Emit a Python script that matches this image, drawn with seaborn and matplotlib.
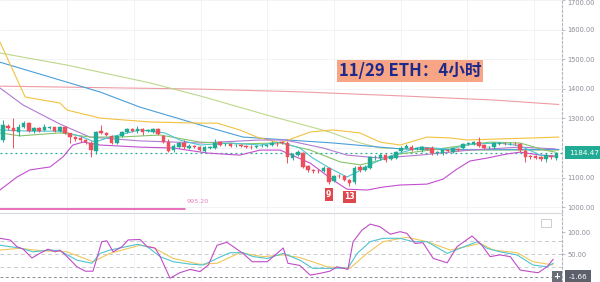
import numpy as np
import pandas as pd
import matplotlib
matplotlib.use("Agg")
import matplotlib.pyplot as plt
import matplotlib.transforms as mtransforms
from matplotlib.patches import Rectangle
import seaborn as sns

# ---------------- data: 4h ETH candles ----------------
opens = [1227, 1274, 1268, 1254, 1271, 1284, 1257, 1267, 1260, 1268, 1270, 1258, 1270, 1250, 1237, 1233,
         1226, 1217, 1190, 1257, 1250, 1240, 1217, 1240, 1254, 1264, 1257, 1263, 1258, 1253, 1264, 1242,
         1221, 1193, 1204, 1216, 1201, 1205, 1202, 1191, 1200, 1201, 1219, 1212, 1214, 1209, 1210, 1207,
         1205, 1203, 1206, 1208, 1209, 1215, 1220, 1216, 1167, 1176, 1182, 1140, 1126, 1122, 1123, 1131,
         1088, 1106, 1105, 1092, 1084, 1137, 1126, 1134, 1168, 1165, 1176, 1162, 1167, 1190, 1199, 1205,
         1198, 1193, 1200, 1201, 1183, 1182, 1192, 1187, 1196, 1199, 1214, 1212, 1219, 1210, 1202, 1202,
         1214, 1215, 1213, 1215, 1213, 1191, 1172, 1174, 1170, 1162, 1172, 1165]
highs = [1294, 1280, 1301, 1280, 1290, 1288, 1272, 1270, 1280, 1276, 1272, 1276, 1274, 1252, 1240, 1240,
         1230, 1222, 1258, 1278, 1254, 1244, 1244, 1258, 1268, 1268, 1274, 1268, 1264, 1268, 1266, 1245,
         1230, 1212, 1220, 1226, 1214, 1210, 1206, 1207, 1206, 1232, 1222, 1218, 1218, 1214, 1214, 1211,
         1209, 1210, 1212, 1214, 1222, 1220, 1223, 1222, 1184, 1192, 1186, 1142, 1130, 1128, 1140, 1134,
         1110, 1112, 1110, 1095, 1140, 1142, 1142, 1174, 1176, 1182, 1180, 1178, 1190, 1206, 1212, 1210,
         1204, 1208, 1204, 1206, 1190, 1196, 1196, 1202, 1200, 1216, 1220, 1222, 1238, 1214, 1208, 1220,
         1220, 1219, 1219, 1219, 1216, 1195, 1176, 1177, 1172, 1184, 1178, 1188]
lows = [1220, 1260, 1200, 1240, 1268, 1254, 1252, 1254, 1256, 1264, 1255, 1255, 1246, 1216, 1225, 1220,
        1214, 1170, 1180, 1246, 1240, 1212, 1212, 1237, 1250, 1254, 1252, 1245, 1254, 1250, 1244, 1218,
        1186, 1188, 1200, 1198, 1196, 1200, 1190, 1188, 1196, 1198, 1206, 1208, 1204, 1205, 1203, 1200,
        1198, 1200, 1202, 1204, 1206, 1208, 1213, 1150, 1160, 1174, 1133, 1120, 1116, 1115, 1118, 1080,
        1084, 1098, 1088, 1072, 1080, 1120, 1122, 1130, 1160, 1160, 1152, 1158, 1162, 1186, 1196, 1190,
        1194, 1188, 1192, 1178, 1178, 1178, 1186, 1184, 1190, 1196, 1210, 1210, 1204, 1198, 1198, 1198,
        1210, 1209, 1209, 1209, 1188, 1154, 1164, 1162, 1156, 1152, 1164, 1160]
closes = [1277, 1268, 1257, 1271, 1284, 1257, 1267, 1258, 1271, 1271, 1258, 1272, 1250, 1237, 1232, 1226,
          1220, 1193, 1254, 1250, 1244, 1217, 1240, 1254, 1264, 1257, 1264, 1255, 1260, 1264, 1246, 1221,
          1190, 1208, 1216, 1202, 1208, 1204, 1193, 1203, 1202, 1218, 1210, 1214, 1208, 1211, 1208, 1205,
          1203, 1206, 1208, 1210, 1216, 1213, 1216, 1171, 1179, 1188, 1137, 1126, 1122, 1121, 1131, 1086,
          1106, 1104, 1092, 1081, 1131, 1126, 1137, 1169, 1170, 1176, 1159, 1174, 1188, 1201, 1208, 1193,
          1199, 1204, 1197, 1182, 1185, 1193, 1190, 1199, 1194, 1212, 1216, 1219, 1207, 1201, 1203, 1216,
          1215, 1213, 1215, 1213, 1193, 1171, 1170, 1167, 1162, 1176, 1170, 1184.47]

last_price = 1184.47
low_mark = 995.20
td_labels = ["9", "13"]
td_index = [63, 67]

# ---------------- overlay lines (candle index, price) ----------------
long_ma_x = [-0.6, 38, 57, 77, 95, 107.5]
long_ma_y = [1409, 1399, 1390, 1376, 1362, 1347]

slow_ma_x = [-0.6, 12.4, 28.4, 38.1, 51.1, 63.2, 68.5, 72.9, 86.5, 107.5]
slow_ma_y = [1521, 1480, 1420, 1376, 1311, 1254, 1220, 1200, 1193, 1192]

blue_ma_x = [-0.6, 18.8, 26.5, 38.1, 46.4, 63.8, 76.8, 90, 107.5]
blue_ma_y = [1490, 1389, 1338, 1278, 1237, 1217, 1197, 1194, 1195]

upper_x = [-0.6, 4.3, 11, 12.4, 18.8, 28.4, 38.1, 41.4, 45.8, 49.1, 53.6, 59.4, 63.8, 69, 72.9,
           76.8, 82, 86.5, 89.7, 94.8, 102.5, 107.5]
upper_y = [1558, 1372, 1352, 1328, 1301, 1288, 1284, 1284, 1261, 1237, 1217, 1254, 1261, 1251, 1220,
           1210, 1237, 1234, 1227, 1230, 1234, 1237]

lower_x = [-0.6, 2.7, 5.2, 9.1, 11.6, 13.5, 15.5, 18.8, 26.5, 32.9, 39.5, 45.8, 49.7, 53.6, 59.4,
           63.8, 66.5, 70.4, 73.5, 76.8, 82, 85.1, 87.8, 90.3, 93.6, 97.5, 100, 103.9, 106.8]
lower_y = [1058, 1102, 1126, 1136, 1170, 1210, 1220, 1210, 1203, 1200, 1183, 1176, 1193, 1193, 1149,
           1092, 1061, 1058, 1068, 1075, 1078, 1095, 1129, 1156, 1166, 1180, 1186, 1176, 1173]

purple_ma_x = [-0.6, 3.9, 11, 16.8, 26.5, 38.1, 49.7, 54.6, 61.9, 66.5, 72.9, 80.7, 90.3, 100, 106.8]
purple_ma_y = [1403, 1345, 1281, 1237, 1224, 1217, 1227, 1227, 1200, 1176, 1166, 1176, 1193, 1203, 1197]

teal_ma_x = [-0.6, 5.2, 11, 14.9, 17.8, 20.7, 26.5, 31.3, 34.2, 38.1, 43.9, 49.7, 53.6, 57.4, 59.9,
             63.2, 66.5, 68.5, 71.6, 75.4, 80.7, 86.5, 90.3, 96.1, 100, 103.9, 106.8]
teal_ma_y = [1261, 1257, 1257, 1240, 1220, 1237, 1261, 1251, 1227, 1210, 1217, 1210, 1220, 1200, 1166,
             1132, 1102, 1119, 1149, 1176, 1203, 1196, 1213, 1217, 1207, 1176, 1170]

green_ma_x = [-0.6, 3.3, 11, 16.8, 22.6, 30.4, 38.1, 45.8, 53.6, 59.4, 65.2, 69.1, 72.9, 76.8, 82.6,
              88.4, 94.2, 100, 104.8, 106.8]
green_ma_y = [1251, 1241, 1251, 1237, 1237, 1244, 1220, 1214, 1217, 1193, 1153, 1143, 1159, 1180, 1193,
              1207, 1220, 1217, 1193, 1186]

# ---------------- oscillator panel ----------------
osc_fast_x = [-0.6, 1.4, 2.7, 3.9, 5.6, 7.2, 8.7, 10.1, 11, 12.4, 14.3, 15.9, 17.4, 19.1, 20.1, 21.3,
              23, 24.2, 26.5, 27.9, 29.4, 30.4, 32.3, 34.2, 36.2, 38.1, 39.7, 41.4, 43.3, 46.4, 48.2,
              51.1, 54.2, 55.1, 57.4, 59.4, 61.3, 63.2, 64.6, 66.7, 67.7, 69.4, 71, 72.9, 74.9, 76.8,
              78.1, 79.7, 81.2, 83.2, 85.9, 87.8, 90.7, 92.6, 94.2, 96.1, 98.1, 100, 101.9, 103.5,
              105.2, 106.4]
osc_fast_y = [85.7, 81.8, 66.6, 61, 41, 52, 61, 55, 59, 44, 21, 11, 11, 78, 80, 55,
              66.6, 82, 83, 66.6, 63.6, 44, -5, 7.5, 15, 10, 25, 70, 76.6, 51.5, 32.5,
              32.5, 63.6, 29, 24, 2, 6, 11, 21, 15, 78, 104, 118, 112, 95, 100.7,
              97, 74, 75.7, 40, 30, 66.6, 91, 70, 44, 48, 44, 13.6, 10, 7.5,
              21, 38]
osc_mid_x = [-0.6, 3.3, 5.8, 9.1, 11, 14.3, 17.2, 18.8, 20.7, 26, 27.9, 30.4, 32.9, 36.2, 38.7, 41.4,
             43.9, 46.4, 48.4, 51.1, 54.2, 57.4, 59.9, 63.8, 66.7, 68.5, 71, 73.5, 76.8, 79.3, 82,
             85.9, 88.4, 91.7, 93.6, 96.1, 99.4, 102.5, 105.2, 106.4]
osc_mid_y = [70, 63.6, 55, 59, 57.5, 36, 29, 51.5, 59, 72, 66.6, 44, 32.5, 27, 25, 40,
             53, 53, 44, 40, 51.5, 36, 17.5, 17.5, 18, 51.5, 78, 85.7, 85.7, 78, 78,
             51.5, 63, 78, 63, 55, 48, 25, 21, 29]
osc_slow_x = [-0.6, 3.3, 7.2, 12.4, 17.4, 20.7, 26.5, 29, 32.9, 38.1, 41.4, 45.8, 50.3, 54.2, 57.4,
              62.7, 67.1, 70.4, 73.5, 78.1, 82, 86.5, 92.3, 94.8, 99.4, 102.5, 106.4]
osc_slow_y = [59, 63, 57.5, 55, 32.5, 51.5, 70, 65, 40, 26.6, 29, 53, 44, 48, 42,
              21, 17.5, 51.5, 78, 88, 78, 59, 74, 59, 53, 32.5, 25]
osc_last = -1.66
osc_levels = [80, 50, 20]

# ---------------- figure ----------------
sns.set_theme(style="white")
plt.rcParams['font.family'] = ['DejaVu Sans']

W, H = 600, 282
fig = plt.figure(figsize=(W / 100, H / 100), dpi=100)
fig.patch.set_facecolor('white')
axw = 562 / W
ax = fig.add_axes([0, 1 - 212 / H, axw, 212 / H])
ax2 = fig.add_axes([0, 0, axw, 69 / H])

XL = (-0.58, 108.1)
grid_c = '#f0f1f5'
axis_c = '#b2b5be'
lab_c = '#8a8d97'
up_c, dn_c = '#22ab94', '#ef4f5c'

for a in (ax, ax2):
    a.set_facecolor('white')
    a.set_xlim(*XL)
    for s in ('left', 'top', 'bottom'):
        a.spines[s].set_visible(False)
    a.spines['right'].set_visible(True)
    a.spines['right'].set_color(axis_c)
    a.spines['right'].set_linewidth(0.8)
    a.spines['right'].set_linestyle((0, (2, 2)))
    a.set_xticks([])
    a.yaxis.tick_right()
    a.tick_params(axis='y', length=2.5, width=0.6, color=axis_c, labelsize=4.8,
                  labelcolor=lab_c, pad=1.5, right=True, left=False)
    for gx in np.arange(12.4, 108, 12.9):
        a.axvline(gx, color=grid_c, lw=0.6, zorder=0)

ax2.spines['top'].set_visible(True)
ax2.spines['top'].set_color('#d6d8de')
ax2.spines['top'].set_linewidth(0.8)

# main axis
ax.set_ylim(983.8, 1700)
main_ticks = [1000, 1100, 1300, 1400, 1500, 1600, 1700]
ax.set_yticks(main_ticks)
ax.set_yticklabels([f"{v:.2f}" for v in main_ticks])
top_lab = ax.get_yticklabels()[-1]
top_lab.set_va('top')
for gy in range(1000, 1701, 100):
    ax.axhline(gy, color=grid_c, lw=0.6, zorder=0)

# overlay lines via seaborn
series = [
    ('long', long_ma_x, long_ma_y, '#ee9ca4', 0.8),
    ('slow', slow_ma_x, slow_ma_y, '#bcd88a', 0.8),
    ('blue', blue_ma_x, blue_ma_y, '#4a9fd8', 0.8),
    ('upper', upper_x, upper_y, '#f2c23f', 0.8),
    ('lower', lower_x, lower_y, '#c24fcf', 0.8),
    ('purple', purple_ma_x, purple_ma_y, '#b27ad0', 0.8),
    ('green', green_ma_x, green_ma_y, '#86c46a', 0.8),
    ('teal', teal_ma_x, teal_ma_y, '#4cc6d2', 0.8),
]
for name, xs, ys, col, lw in series:
    df = pd.DataFrame({'i': xs, 'p': ys})
    sns.lineplot(data=df, x='i', y='p', ax=ax, color=col, lw=lw, sort=False,
                 estimator=None, zorder=2)

# candles
idx = np.arange(len(opens))
o = np.array(opens, float); c = np.array(closes, float)
h = np.array(highs, float); l = np.array(lows, float)
cols = np.where(c >= o, up_c, dn_c)
ax.vlines(idx, l, h, colors=cols, lw=0.7, zorder=3)
body = np.maximum(np.abs(c - o), 1.6)
ax.bar(idx, body, bottom=np.minimum(o, c), width=0.68, color=cols, edgecolor=cols,
       linewidth=0.3, zorder=4)

# current price line and label
ax.axhline(last_price, color=up_c, lw=0.9, ls=(0, (1.5, 2.5)), zorder=1)
tr = mtransforms.blended_transform_factory(ax.transAxes, ax.transData)
ax.text(1.012, last_price, f"{last_price:.2f}", transform=tr, ha='left', va='center',
        fontsize=5.2, color='white', clip_on=False,
        bbox=dict(boxstyle='square,pad=0.45', fc=up_c, ec='none'))

# low marker
ax.plot([XL[0], 35.2], [low_mark, low_mark], color='#e04aa6', lw=1.1, zorder=2)
ax.text(35.6, low_mark + 14, f"{low_mark:.2f}", fontsize=4.6, color='#e883bd',
        ha='left', va='bottom')

# TD labels
for t, k in zip(td_labels, td_index):
    ax.text(k, lows[k] - 22, t, ha='center', va='top', fontsize=5.6, color='white',
            fontweight='bold', bbox=dict(boxstyle='square,pad=0.2', fc='#e0464e', ec='none'),
            zorder=6)

# title
ax.text(410 / 562, 1 - 71 / 212, "11/29 ETH：4小时", transform=ax.transAxes,
        ha='center', va='center', fontsize=12, color='#1d2a8c', fontweight='bold',
        family=['Noto Sans CJK SC', 'DejaVu Sans'],
        bbox=dict(boxstyle='square,pad=0.12', fc='#f7a584', ec='none'), zorder=7)

# oscillator panel
ax2.set_ylim(-13.6, 143.2)
ax2.set_yticks([50, 100])
ax2.set_yticklabels(["50.00", "100.00"])
for lv in osc_levels:
    ax2.axhline(lv, color='#c9cbd2', lw=0.7, ls=(0, (4, 3)), zorder=0)
ax2.axhline(osc_last, color='#8d9099', lw=0.7, ls=(0, (3, 2.5)), zorder=0)
for xs, ys, col in [(osc_slow_x, osc_slow_y, '#f0c75a'),
                    (osc_mid_x, osc_mid_y, '#4fc3d0'),
                    (osc_fast_x, osc_fast_y, '#c04cc8')]:
    df = pd.DataFrame({'i': xs, 'v': ys})
    sns.lineplot(data=df, x='i', y='v', ax=ax2, color=col, lw=0.8, sort=False,
                 estimator=None, zorder=2)
ax.set_xlabel(''); ax.set_ylabel(''); ax2.set_xlabel(''); ax2.set_ylabel('')
ax2.set_xticks([])

tr2 = mtransforms.blended_transform_factory(ax2.transAxes, ax2.transData)
ax2.text(1.012, osc_last, f"{osc_last:.2f}", transform=tr2, ha='left', va='center',
         fontsize=5.2, color='white', clip_on=False,
         bbox=dict(boxstyle='square,pad=0.45', fc='#5d606b', ec='none'))
ax2.text(0.991, osc_last, "+", transform=tr2, ha='center', va='center', fontsize=6,
         color='white', fontweight='bold',
         bbox=dict(boxstyle='square,pad=0.2', fc='#6a6d78', ec='none'), zorder=6)
ax2.add_patch(Rectangle((0.962, 0.79), 0.018, 0.13, transform=ax2.transAxes,
                        fill=False, ec='#c3c5cc', lw=0.6))

fig.savefig("out.png", dpi=100, facecolor='white')
